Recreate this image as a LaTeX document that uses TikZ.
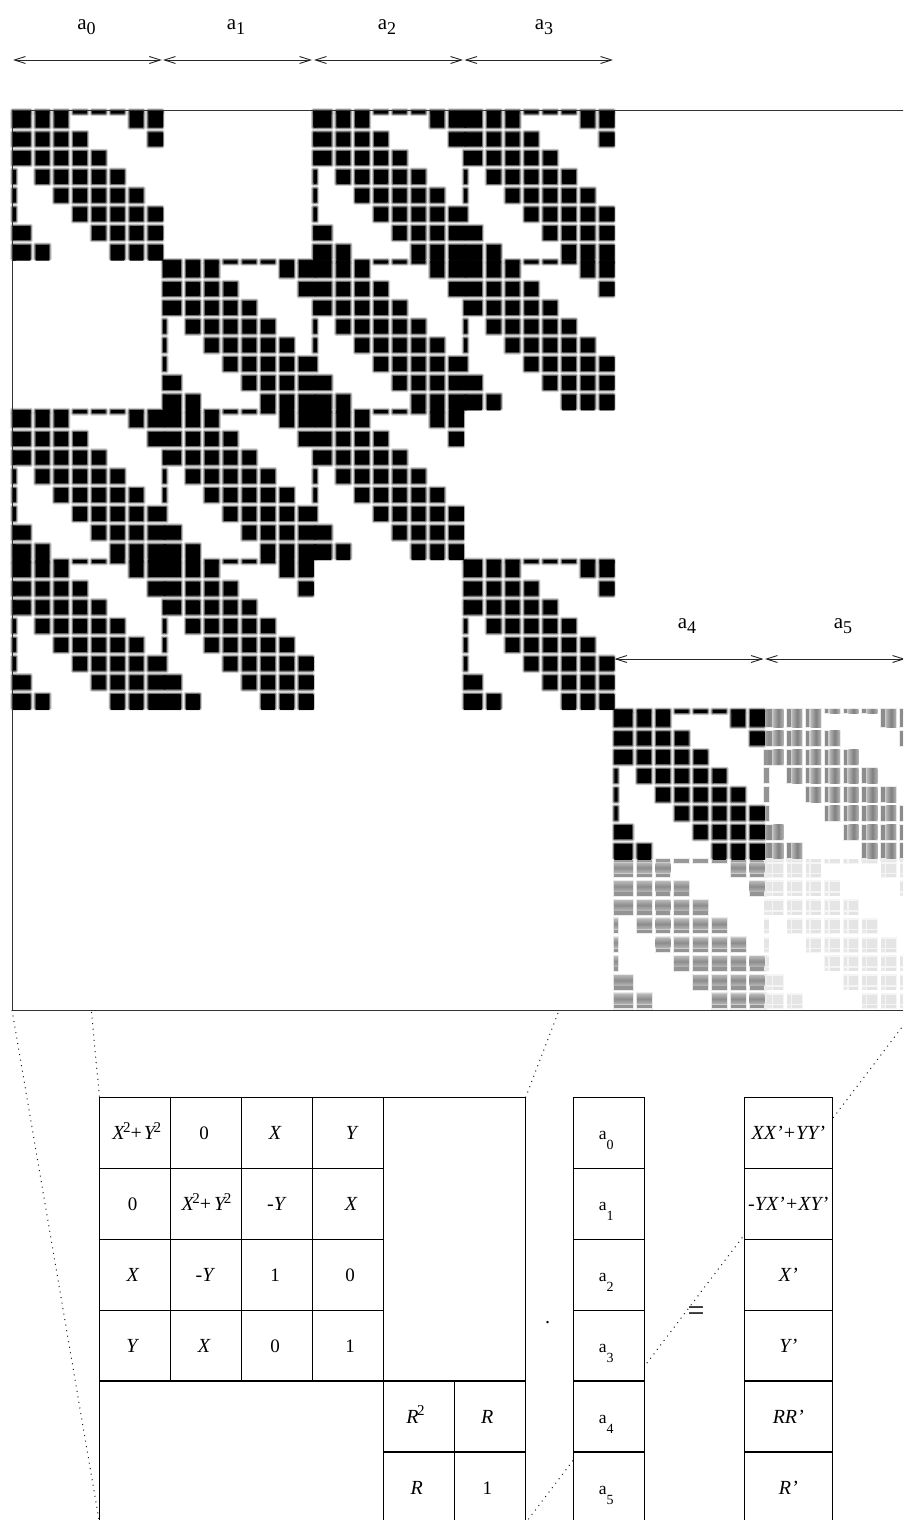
\documentclass[tikz,border=0pt]{standalone}
\usepackage{fontspec}
\setmainfont{Liberation Serif}
\usetikzlibrary{arrows.meta}
% block cell pattern: row / list of columns, -1 is the thin strip
\def\blockpattern{-1/{-1,0,1,2,3,4,5,6,7},0/{-1,0,1,2,6,7},1/{-1,0,1,2,3,7},2/{-1,0,1,2,3,4},3/{-1,1,2,3,4,5},4/{-1,2,3,4,5,6},5/{-1,3,4,5,6,7},6/{-1,0,4,5,6,7},7/{-1,0,1,5,6,7}}
\def\setcell#1#2{%
  \ifnum#1<0 \def\cx{0}\def\cw{4.4}\else\pgfmathsetmacro\cx{4.2+18.8*#1}\def\cw{14.8}\fi
  \ifnum#2<0 \def\cy{0}\def\ch{4.2}\else\pgfmathsetmacro\cy{3+18.75*#2}\def\ch{15}\fi}
% geometry of the solid core: first cells join their strip, last cells join the next block
\def\setcore#1#2{%
  \setcell{#1}{#2}%
  \ifnum#1=0 \def\cx{0}\def\cw{19}\fi
  \ifnum#1=7 \def\cw{16}\fi
  \ifnum#2=0 \def\cy{0}\def\ch{18}\fi
  \ifnum#2=7 \def\ch{16.8}\fi}
\def\blacklist{12/110,312.9/110,463.35/110,162.45/259.8,312.9/259.8,463.35/259.8,12/409.6,162.45/409.6,312.9/409.6,12/559.4,162.45/559.4,463.35/559.4,613.8/709.2}
\def\eachcell#1{\foreach \v/\ulist in \blockpattern {\foreach \u in \ulist {\setcell{\u}{\v}#1}}}
\def\eachcore#1{\foreach \v/\ulist in \blockpattern {\foreach \u in \ulist {\setcore{\u}{\v}#1}}}
\newcommand{\vt}[1]{{\fontsize{20}{22}\selectfont\itshape #1}}
\newcommand{\nt}[1]{{\fontsize{19}{21}\selectfont #1}}
\newcommand{\sqv}[1]{#1\kern-1.5pt\raisebox{7.5pt}{\fontsize{15}{15}\selectfont\upshape 2}}
\newcommand{\ac}[1]{{\fontsize{17.5}{20}\selectfont a\raisebox{-10pt}{\fontsize{14}{14}\selectfont #1}}}
\newcommand{\at}[1]{{\fontsize{21}{24}\selectfont a\raisebox{-5.7pt}{\fontsize{18}{18}\selectfont #1}}}
\newcommand{\tcell}[7]{%
  \node[cellbox,minimum width=#4pt,minimum height=#5pt] (#1) at (#2,#3) {};
  \node[celltext] (#1t) at ([xshift=#6pt,yshift=-42pt]#1.north) {#7};}
\tikzset{
  cellbox/.style={draw=black,line width=1.1pt,fill=white,rectangle,inner sep=0pt,outer sep=0pt,anchor=north west},
  celltext/.style={anchor=base,inner sep=0pt,outer sep=0pt,text=black},
  toplabel/.style={anchor=base,inner sep=0pt,outer sep=0pt,text=black},
  dimline/.style={line width=0.9pt,black!85,{Straight Barb[length=11pt,width=7pt]}-{Straight Barb[length=11pt,width=7pt]}},
  dotline/.style={line width=1pt,black!90,dash pattern=on 1pt off 4.6pt}
}
\begin{document}
\begin{tikzpicture}[x=1pt,y=-1pt]
\useasboundingbox (0,0) rectangle (903,1520);
\begin{scope}
\clip (0,0) rectangle (903,1520);
\fill[white] (0,0) rectangle (903,1520);
% ---------- light block a5/a5
\def\bx{764.25}\def\by{859}
\eachcell{%
  \fill[black!4] (\bx+\cx-0.5,\by+\cy-0.5) rectangle ++(\cw+1,\ch+1);
  \ifnum\u<0 \def\xa{0}\def\xwa{4.4}\def\xb{0}\def\xwb{0}\else\pgfmathsetmacro\xa{\cx}\def\xwa{3.3}\pgfmathsetmacro\xb{\cx+5}\def\xwb{9.8}\fi
  \ifnum\v<0 \def\ya{0}\def\yha{4.2}\def\yb{0}\def\yhb{0}\else\pgfmathsetmacro\ya{\cy+1.5}\def\yha{9}\pgfmathsetmacro\yb{\cy+12}\def\yhb{3.2}\fi
  \fill[black!10] (\bx+\xa,\by+\ya) rectangle ++(\xwa,\yha);
  \fill[black!10] (\bx+\xb,\by+\ya) rectangle ++(\xwb,\yha);
  \fill[black!9] (\bx+\xa,\by+\yb) rectangle ++(\xwa,\yhb);
  \fill[black!11] (\bx+\xb,\by+\yb) rectangle ++(\xwb,\yhb);
}
% ---------- horizontal stripes, row a5 by column a4
\def\bx{613.8}\def\by{859}
\eachcore{%
  \fill[black!8] (\bx+\cx-1,\by+\cy-1) rectangle ++(\cw+2,\ch+2);}
\eachcell{%
  \ifnum\v<0
    \fill[black!40] (\bx+\cx,\by+\cy) rectangle ++(\cw,\ch);
  \else
    \fill[black!20] (\bx+\cx,\by+\cy) rectangle ++(\cw,\ch);
    \shade[top color=black!30,bottom color=black!30,middle color=black!45] (\bx+\cx,\by+\cy+1) rectangle ++(\cw,9.5);
    \fill[black!42] (\bx+\cx,\by+\cy+11.7) rectangle ++(\cw,3.3);
  \fi
}
% ---------- vertical stripes, row a4 by column a5
\def\bx{764.25}\def\by{709.2}
\eachcore{%
  \fill[black!8] (\bx+\cx-1,\by+\cy-1) rectangle ++(\cw+2,\ch+2);}
\eachcell{%
  \ifnum\u<0
    \fill[black!42] (\bx+\cx,\by+\cy) rectangle ++(\cw,\ch);
  \else
    \fill[black!20] (\bx+\cx,\by+\cy) rectangle ++(\cw,\ch);
    \fill[black!45] (\bx+\cx,\by+\cy) rectangle ++(3.3,\ch);
    \shade[left color=black!30,right color=black!30,middle color=black!50] (\bx+\cx+5,\by+\cy) rectangle ++(9.8,\ch);
  \fi
}
% ---------- soft edges of the black cells
\foreach \bx/\by in \blacklist {\eachcell{%
  \fill[black!20,rounded corners=1.5pt] (\bx+\cx-1.7,\by+\cy-1.7) rectangle ++(\cw+3.4,\ch+3.4);}}
\foreach \bx/\by in \blacklist {\eachcell{%
  \fill[black!55,rounded corners=1pt] (\bx+\cx-0.6,\by+\cy-0.6) rectangle ++(\cw+1.2,\ch+1.2);}}
\foreach \bx/\by in \blacklist {\eachcore{%
  \fill[black,rounded corners=0.6pt] (\bx+\cx+0.5,\by+\cy+0.5) rectangle ++(\cw-1,\ch-1);}}
% ---------- frame of the big matrix
\draw[line width=1pt,black!80] (12,110) rectangle (916,1010);
% ---------- dimension arrows
\coordinate (p0) at (13,60); \coordinate (p1) at (161.8,60);
\coordinate (p2) at (163,60); \coordinate (p3) at (312,60);
\coordinate (p4) at (314,60); \coordinate (p5) at (463,60);
\coordinate (p6) at (464.5,60); \coordinate (p7) at (613,60);
\coordinate (q0) at (614.5,659); \coordinate (q1) at (763.5,659);
\coordinate (q2) at (765,659); \coordinate (q3) at (905,659);
\draw[dimline] (p0) -- (p1);
\draw[dimline] (p2) -- (p3);
\draw[dimline] (p4) -- (p5);
\draw[dimline] (p6) -- (p7);
\draw[dimline] (q0) -- (q1);
\draw[dimline] (q2) -- (q3);
\node[toplabel] (l0) at (86.5,29.3) {\at{0}};
\node[toplabel] (l1) at (236,29.3) {\at{1}};
\node[toplabel] (l2) at (387,29.3) {\at{2}};
\node[toplabel] (l3) at (544,29.3) {\at{3}};
\node[toplabel] (l4) at (687,628) {\at{4}};
\node[toplabel] (l5) at (843,628) {\at{5}};
% ---------- dotted projection lines
\coordinate (m1) at (12,1010); \coordinate (m2) at (91.5,1012);
\coordinate (m3) at (558,1013); \coordinate (m4) at (915,1010);
\coordinate (t1) at (99.5,1523); \coordinate (t2) at (99.5,1097.7);
\coordinate (t3) at (525.5,1097.7); \coordinate (t4) at (525.5,1523);
\draw[dotline] (m1) -- (t1);
\draw[dotline] (m2) -- (t2);
\draw[dotline] (m3) -- (t3);
\draw[dotline] (m4) -- (t4);
% ---------- left matrix
\tcell{c11}{99.5}{1097.7}{71}{71}{1.7}{\vt{\sqv{X}{\upshape +}\kern2pt\sqv{Y}}}
\tcell{c12}{170.5}{1097.7}{71}{71}{-2}{\nt{0}}
\tcell{c13}{241.5}{1097.7}{71}{71}{-2}{\vt{X}}
\tcell{c14}{312.5}{1097.7}{71}{71}{3.5}{\vt{Y}}
\tcell{c21}{99.5}{1168.7}{71}{71}{-2.3}{\nt{0}}
\tcell{c22}{170.5}{1168.7}{71}{71}{0.5}{\vt{\sqv{X}{\upshape +}\kern3pt\sqv{Y}}}
\tcell{c23}{241.5}{1168.7}{71}{71}{-1}{\vt{-Y}}
\tcell{c24}{312.5}{1168.7}{71}{71}{3}{\vt{X}}
\tcell{c31}{99.5}{1239.7}{71}{71}{-2.3}{\vt{X}}
\tcell{c32}{170.5}{1239.7}{71}{71}{-1.5}{\vt{-Y}}
\tcell{c33}{241.5}{1239.7}{71}{71}{-2}{\nt{1}}
\tcell{c34}{312.5}{1239.7}{71}{71}{2}{\nt{0}}
\tcell{c41}{99.5}{1310.5}{71}{70.5}{-3}{\vt{Y}}
\tcell{c42}{170.5}{1310.5}{71}{70.5}{-2}{\vt{X}}
\tcell{c43}{241.5}{1310.5}{71}{70.5}{-2}{\nt{0}}
\tcell{c44}{312.5}{1310.5}{71}{70.5}{2}{\nt{1}}
\node[cellbox,minimum width=142pt,minimum height=283.3pt] (blankA) at (383.5,1097.7) {};
\node[cellbox,minimum width=284pt,minimum height=143pt] (blankB) at (99.5,1381) {};
\tcell{r11}{383.5}{1381}{71}{71}{-3.5}{\vt{\sqv{R}}}
\tcell{r12}{454.5}{1381}{71}{71}{-2.7}{\vt{R}}
\tcell{r21}{383.5}{1452}{71}{72}{-2.3}{\vt{R}}
\tcell{r22}{454.5}{1452}{71}{72}{-2.7}{\nt{1}}
% ---------- unknown vector
\tcell{a0}{573.3}{1097.7}{71}{71}{-2.5}{\ac{0}}
\tcell{a1}{573.3}{1168.7}{71}{71}{-2.5}{\ac{1}}
\tcell{a2}{573.3}{1239.7}{71}{71}{-2.5}{\ac{2}}
\tcell{a3}{573.3}{1310.5}{71}{70.5}{-2.5}{\ac{3}}
\tcell{a4}{573.3}{1381}{71}{71}{-2.5}{\ac{4}}
\tcell{a5}{573.3}{1452}{71}{72}{-2.5}{\ac{5}}
% ---------- right-hand side
\tcell{b0}{744.3}{1097.7}{88}{71}{0}{\vt{XX'+YY'}}
\tcell{b1}{744.3}{1168.7}{88}{71}{0}{\vt{-YX'+XY'}}
\tcell{b2}{744.3}{1239.7}{88}{71}{0}{\vt{X'}}
\tcell{b3}{744.3}{1310.5}{88}{70.5}{0}{\vt{Y'}}
\tcell{b4}{744.3}{1381}{88}{71}{0}{\vt{RR'}}
\tcell{b5}{744.3}{1452}{88}{72}{0}{\vt{R'}}
% ---------- operators
\node[celltext] (dotop) at (547.7,1323) {\fontsize{20}{22}\selectfont .};
\node[celltext] (eqop) at (696,1320.5) {\fontsize{30}{32}\selectfont =};
\end{scope}
\end{tikzpicture}
\end{document}
